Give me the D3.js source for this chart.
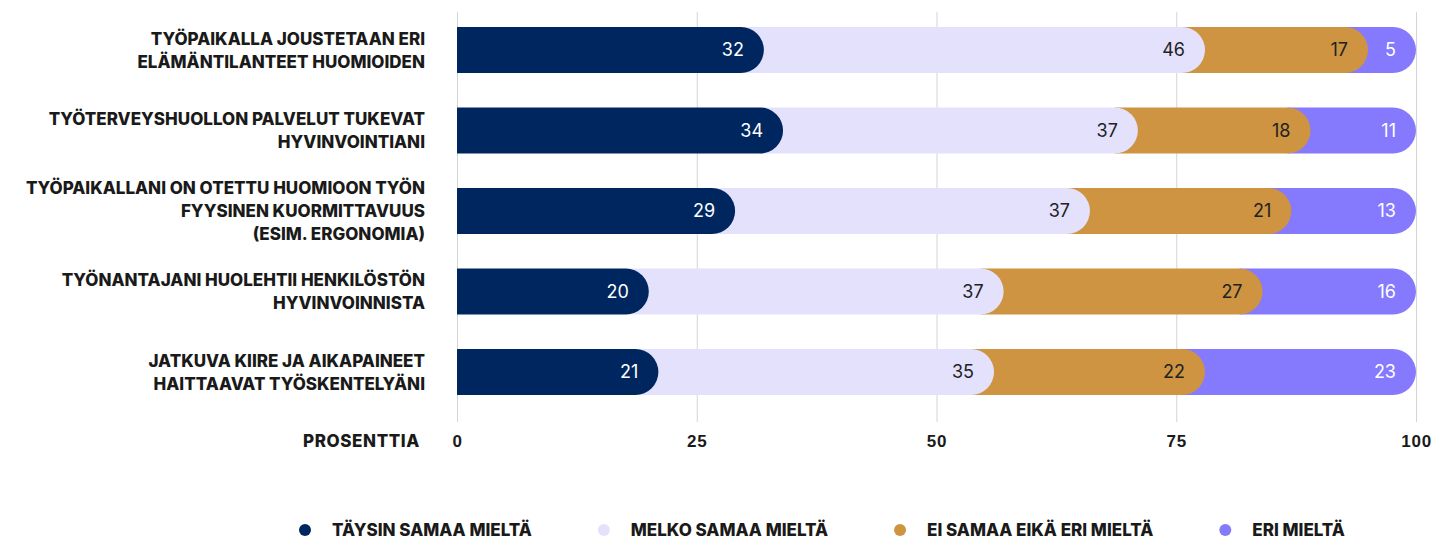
<!DOCTYPE html>
<meta charset="utf-8">
<html>
<head>
<script src="https://cdn.jsdelivr.net/npm/d3@7"></script>
<style>
body { margin:0; background:#fff; }
svg { font-family:'Inter', 'Lato', sans-serif; }
.cat-label { font-size:17px; font-weight:800; fill:#1a1a1a; letter-spacing:0px; }
.x-axis text { font-size:17px; font-weight:800; fill:#1a1a1a; letter-spacing:0.8px; }
.x-axis path { stroke-width:0; }
.x-axis line { stroke:#d4d4d4; stroke-width:1; }
.val { font-size:18px; font-weight:400; }
.legend text { font-size:17px; font-weight:800; fill:#1a1a1a; letter-spacing:0px; }
</style>
</head>
<body>
<script>

// data
var categories = [
  ["TYÖPAIKALLA JOUSTETAAN ERI", "ELÄMÄNTILANTEET HUOMIOIDEN"],
  ["TYÖTERVEYSHUOLLON PALVELUT TUKEVAT", "HYVINVOINTIANI"],
  ["TYÖPAIKALLANI ON OTETTU HUOMIOON TYÖN", "FYYSINEN KUORMITTAVUUS", "(ESIM. ERGONOMIA)"],
  ["TYÖNANTAJANI HUOLEHTII HENKILÖSTÖN", "HYVINVOINNISTA"],
  ["JATKUVA KIIRE JA AIKAPAINEET", "HAITTAAVAT TYÖSKENTELYÄNI"]
];
var seriesNames = ["TÄYSIN SAMAA MIELTÄ", "MELKO SAMAA MIELTÄ", "EI SAMAA EIKÄ ERI MIELTÄ", "ERI MIELTÄ"];
var taysin = [32, 34, 29, 20, 21];
var melko  = [46, 37, 37, 37, 35];
var eiEri  = [17, 18, 21, 27, 22];
var eri    = [5, 11, 13, 16, 23];
var tickValues = [0, 25, 50, 75, 100];
var axisTitle = "PROSENTTIA";

var colors = ["#00265f", "#e4e1fd", "#ce9441", "#8579fd"];
var textColors = ["#ffffff", "#222222", "#222222", "#ffffff"];

var W = 1450, H = 542;
var left = 457, right = 1416, gridTop = 12, gridBottom = 422;
var barH = 46, r = barH / 2;

var svg = d3.select("body").append("svg")
    .attr("width", W)
    .attr("height", H);

var x = d3.scaleLinear().domain([0, 100]).range([left, right]);
var y = d3.scalePoint().domain(d3.range(categories.length)).range([50, 372]);

// gridlines + tick labels
var axis = svg.append("g")
    .attr("class", "x-axis")
    .attr("transform", `translate(0, ${gridBottom})`)
    .call(d3.axisBottom(x)
      .tickValues(tickValues)
      .tickFormat(d3.format("d"))
      .tickSizeInner(-(gridBottom - gridTop))
      .tickSizeOuter(0)
      .tickPadding(13));
axis.select(".domain").remove();

svg.append("text")
    .attr("class", "cat-label")
    .attr("x", 420)
    .attr("y", gridBottom + 25)
    .attr("text-anchor", "end")
    .style("letter-spacing", "0.6px")
    .text(axisTitle);

// stacked rows
var series = [taysin, melko, eiEri, eri];
var rows = categories.map(function(c, i) {
  var cum = 0;
  return series.map(function(s, k) {
    var seg = {row:i, k:k, v:s[i], start:cum, end:cum + s[i]};
    cum += s[i];
    return seg;
  });
});

function segPath(d) {
  var x0 = d.k === 0 ? x(d.start) : x(d.start) - r;
  var x1 = Math.min(x(d.end), right);
  var top = y(d.row) - barH / 2;
  return `M${x0},${top} H${x1 - r} A${r},${r} 0 0 1 ${x1},${top + r} A${r},${r} 0 0 1 ${x1 - r},${top + barH} H${x0} Z`;
}

var rowG = svg.selectAll(".row")
    .data(rows)
    .enter().append("g")
    .attr("class", "row");

// draw last segment first so earlier caps sit on top
rowG.selectAll("path")
    .data(d => d.slice().reverse())
    .enter().append("path")
    .attr("d", segPath)
    .attr("fill", d => colors[d.k]);

rowG.selectAll("text.val")
    .data(d => d)
    .enter().append("text")
    .attr("class", "val")
    .attr("x", d => Math.min(x(d.end), right) - 20)
    .attr("y", d => y(d.row))
    .attr("dy", "0.36em")
    .attr("text-anchor", "end")
    .attr("fill", d => textColors[d.k])
    .text(d => d.v);

// category labels
var lineH = 23;
svg.selectAll(".cat")
    .data(categories)
    .enter().append("text")
    .attr("class", "cat-label")
    .attr("text-anchor", "end")
    .each(function(lines, i) {
      var t = d3.select(this);
      var y0 = y(i) - (lines.length - 1) * lineH / 2;
      lines.forEach(function(l, j) {
        t.append("tspan")
          .attr("x", 425)
          .attr("y", y0 + j * lineH)
          .attr("dy", "0.36em")
          .text(l);
      });
    });

// legend
var legend = svg.append("g").attr("class", "legend");
var lx = 299;
seriesNames.forEach(function(n, k) {
  legend.append("circle")
    .attr("cx", lx + 6)
    .attr("cy", 530)
    .attr("r", 6)
    .attr("fill", colors[k]);
  var t = legend.append("text")
    .attr("x", lx + 33)
    .attr("y", 530)
    .attr("dy", "0.36em")
    .text(n);
  lx += 33 + t.node().getComputedTextLength() + 66;
});

</script>
</body>
</html>
